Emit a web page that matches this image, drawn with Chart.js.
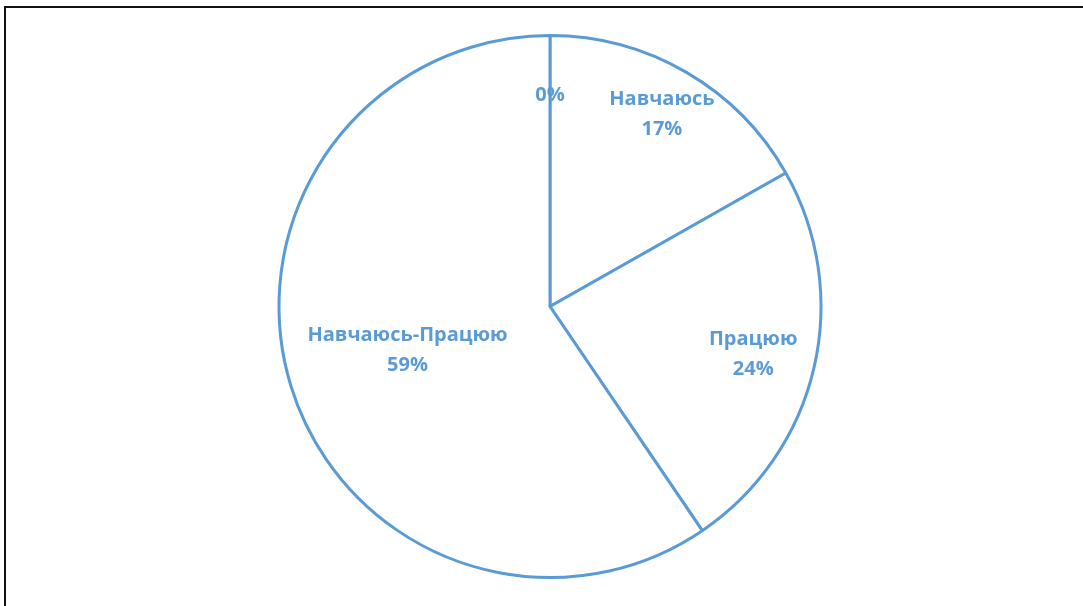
<!DOCTYPE html>
<html>
<head>
<meta charset="utf-8">
<script src="https://cdn.jsdelivr.net/npm/chart.js@4/dist/chart.umd.min.js"></script>
<style>
  html, body { margin: 0; padding: 0; background: #fff; overflow: hidden; }
  #wrap { position: relative; width: 1083px; height: 606px; }
  #frame { position: absolute; left: 4px; top: 6px; width: 1200px; height: 700px;
           border-top: 2px solid #111; border-left: 2px solid #111; pointer-events: none; }
  #c { position: absolute; left: 0; top: 0; }
</style>
</head>
<body>
<div id="wrap">
  <canvas id="c" width="1083" height="606"></canvas>
  <div id="frame"></div>
</div>
<script>
// ---- data ----
const categories = ['', 'Навчаюсь', 'Працюю', 'Навчаюсь-Працюю'];
const values = [0, 16.8, 23.7, 59.5];
const percentLabels = ['0%', '17%', '24%', '59%'];

const BLUE = '#5B9BD5';

const labelPlugin = {
  id: 'sliceLabels',
  afterDatasetsDraw(chart, args, opts) {
    const ctx = chart.ctx;
    const meta = chart.getDatasetMeta(0);
    ctx.save();
    ctx.fillStyle = BLUE;
    ctx.font = 'bold ' + opts.fontSize + 'px "Open Sans", "DejaVu Sans", sans-serif';
    ctx.textAlign = 'center';
    ctx.textBaseline = 'middle';
    meta.data.forEach((arc, i) => {
      const p = arc.getProps(['x', 'y', 'startAngle', 'endAngle', 'outerRadius'], true);
      const mid = (p.startAngle + p.endAngle) / 2;
      const r = p.outerRadius * opts.radiusFrac[i];
      const x = p.x + Math.cos(mid) * r;
      const y = p.y + Math.sin(mid) * r;
      const name = chart.data.labels[i];
      const pct = percentLabels[i];
      if (name) {
        ctx.fillText(name, x, y - opts.lineHeight / 2);
        ctx.fillText(pct, x, y + opts.lineHeight / 2);
      } else {
        ctx.fillText(pct, x, y);
      }
    });
    ctx.restore();
  }
};

new Chart(document.getElementById('c'), {
  type: 'pie',
  data: {
    labels: categories,
    datasets: [{
      data: values,
      backgroundColor: '#ffffff',
      borderColor: BLUE,
      borderWidth: 3
    }]
  },
  options: {
    responsive: false,
    animation: false,
    layout: { padding: { top: 34, bottom: 27, left: 17, right: 0 } },
    plugins: {
      legend: { display: false },
      tooltip: { enabled: false },
      sliceLabels: {
        fontSize: 20,
        lineHeight: 30,
        radiusFrac: [0.78, 0.82, 0.77, 0.55]
      }
    }
  },
  plugins: [labelPlugin]
});
</script>
</body>
</html>
